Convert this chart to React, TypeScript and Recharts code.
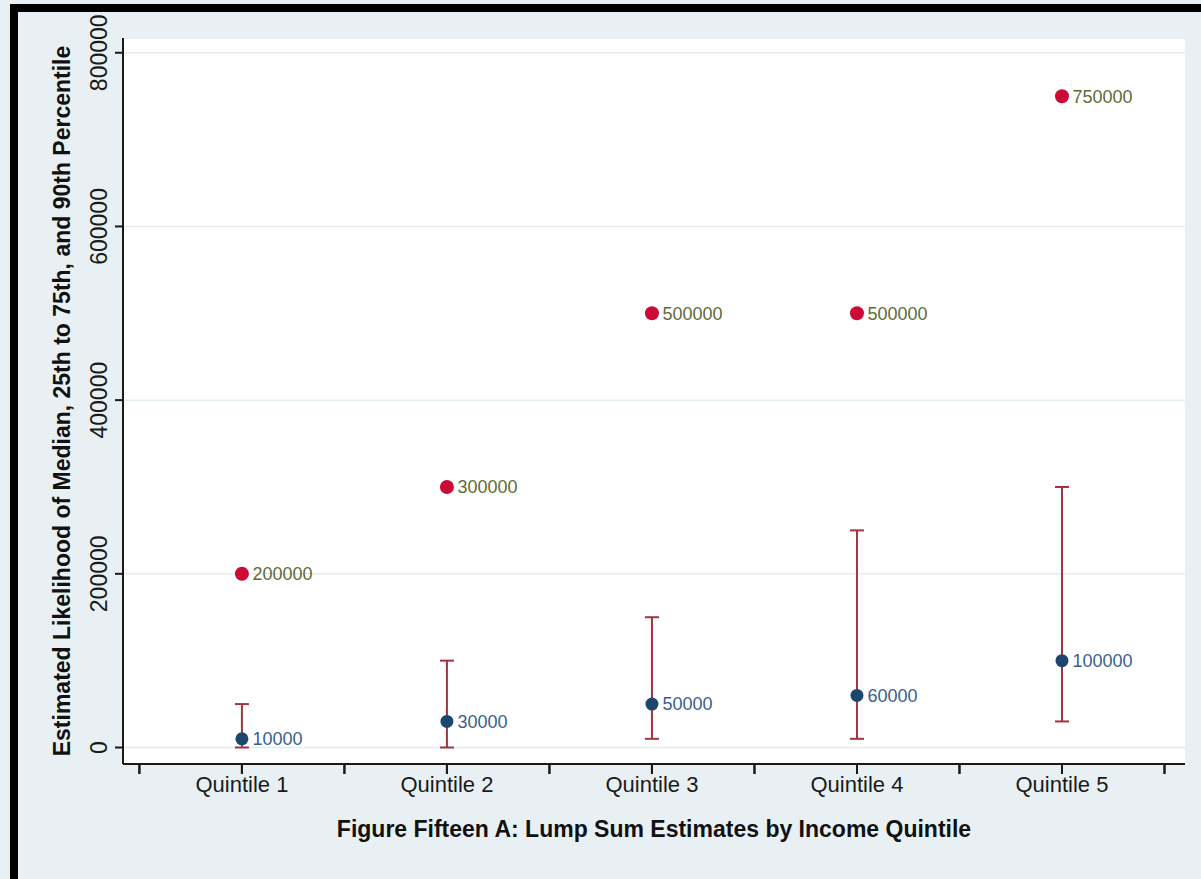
import { ScatterChart, Scatter, XAxis, YAxis, CartesianGrid, ErrorBar, LabelList } from 'recharts'

// ─── Data ────────────────────────────────────────────────────────────────────

const QUINTILES = ['Quintile 1', 'Quintile 2', 'Quintile 3', 'Quintile 4', 'Quintile 5']
const QUINTILE_X = [1, 2, 3, 4, 5]
const MEDIAN = [10000, 30000, 50000, 60000, 100000]
const P25 = [0, 0, 10000, 10000, 30000]
const P75 = [50000, 100000, 150000, 250000, 300000]
const P90 = [200000, 300000, 500000, 500000, 750000]

const Y_TICKS = [0, 200000, 400000, 600000, 800000]
const X_TICKS = [0.5, 1, 1.5, 2, 2.5, 3, 3.5, 4, 4.5, 5, 5.5]

const TITLE = 'Figure Fifteen A: Lump Sum Estimates by Income Quintile'
const Y_TITLE = 'Estimated Likelihood of Median, 25th to 75th, and 90th Percentile'

const medianRows = QUINTILE_X.map((x, i) => ({
  x,
  y: MEDIAN[i],
  err: [MEDIAN[i] - P25[i], P75[i] - MEDIAN[i]],
}))
const p90Rows = QUINTILE_X.map((x, i) => ({ x, y: P90[i] }))

// ─── Styling ─────────────────────────────────────────────────────────────────

const FONT = '"Liberation Sans", Arial, sans-serif'
const BG = '#e8f0f3'
const AXIS = '#1a1a1a'
const RED = '#cc0a35'
const NAVY = '#1b476f'
const BAR = '#a3343e'

function YTick({ x, y, payload }: any) {
  const bx = x - 6
  return (
    <text
      x={bx}
      y={y}
      transform={`rotate(-90, ${bx}, ${y})`}
      textAnchor="middle"
      fontFamily={FONT}
      fontSize={23}
      fill={AXIS}
    >
      {payload.value}
    </text>
  )
}

function XTick({ x, y, payload }: any) {
  return (
    <g>
      <line x1={x} y1={y - 12} x2={x} y2={y - 2} stroke={AXIS} strokeWidth={2} />
      <text x={x} y={y + 16} textAnchor="middle" fontFamily={FONT} fontSize={22} fill={AXIS}>
        {fmtX(payload.value)}
      </text>
    </g>
  )
}

const fmtX = (v: number) => (Number.isInteger(v) ? QUINTILES[v - 1] : '')

export default function App() {
  return (
    <div style={{ position: 'absolute', left: 0, top: 0, width: 1201, height: 879, background: BG, overflow: 'hidden' }}>
      <div
        style={{
          position: 'absolute', left: 10, top: 4, width: 1300, height: 1000,
          borderLeft: '8px solid #000', borderTop: '8px solid #000',
        }}
      />
      <div style={{ position: 'absolute', left: 0, top: 0 }}>
        <ScatterChart width={1201} height={879} margin={{ top: 38, right: 16, bottom: 75, left: 0 }}>
          <CartesianGrid vertical={false} stroke="#e3ecf0" strokeWidth={1.5} fill="#ffffff" fillOpacity={1} />
          <XAxis
            dataKey="x"
            type="number"
            domain={[0.42, 5.6]}
            ticks={X_TICKS}
            interval={0}
            height={40}
            tickSize={10}
            tick={<XTick />}
            tickLine={{ stroke: AXIS, strokeWidth: 2 }}
            axisLine={{ stroke: AXIS, strokeWidth: 2 }}
            allowDataOverflow
            label={({ viewBox }: any) => (
              <text
                x={viewBox.x + viewBox.width / 2}
                y={viewBox.y + 73}
                textAnchor="middle"
                fontFamily={FONT}
                fontWeight="bold"
                fontSize={23}
                fill="#111"
              >
                {TITLE}
              </text>
            )}
          />
          <YAxis
            type="number"
            domain={[-19000, 817000]}
            ticks={Y_TICKS}
            interval={0}
            width={123}
            tickSize={8}
            tick={<YTick />}
            tickLine={{ stroke: AXIS, strokeWidth: 2 }}
            axisLine={{ stroke: AXIS, strokeWidth: 2 }}
            allowDataOverflow
            label={({ viewBox }: any) => {
              const cy = viewBox.y + viewBox.height / 2
              return (
                <text
                  x={70}
                  y={cy}
                  transform={`rotate(-90, 70, ${cy})`}
                  textAnchor="middle"
                  fontFamily={FONT}
                  fontWeight="bold"
                  fontSize={23}
                  fill="#111"
                >
                  {Y_TITLE}
                </text>
              )
            }}
          />
          <Scatter
            data={medianRows}
            dataKey="y"
            isAnimationActive={false}
            shape={(p: any) => <circle cx={p.cx} cy={p.cy} r={6.5} fill={NAVY} />}
          >
            <ErrorBar dataKey="err" direction="y" width={7} stroke={BAR} strokeWidth={2} />
            <LabelList dataKey="y" position="right" offset={6} fill="#3a5f8f" fontSize={18} fontFamily={FONT} />
          </Scatter>
          <Scatter
            data={p90Rows}
            dataKey="y"
            isAnimationActive={false}
            shape={(p: any) => <circle cx={p.cx} cy={p.cy} r={7} fill={RED} />}
          >
            <LabelList dataKey="y" position="right" offset={6} fill="#5f6b36" fontSize={18} fontFamily={FONT} />
          </Scatter>
        </ScatterChart>
      </div>
    </div>
  )
}
